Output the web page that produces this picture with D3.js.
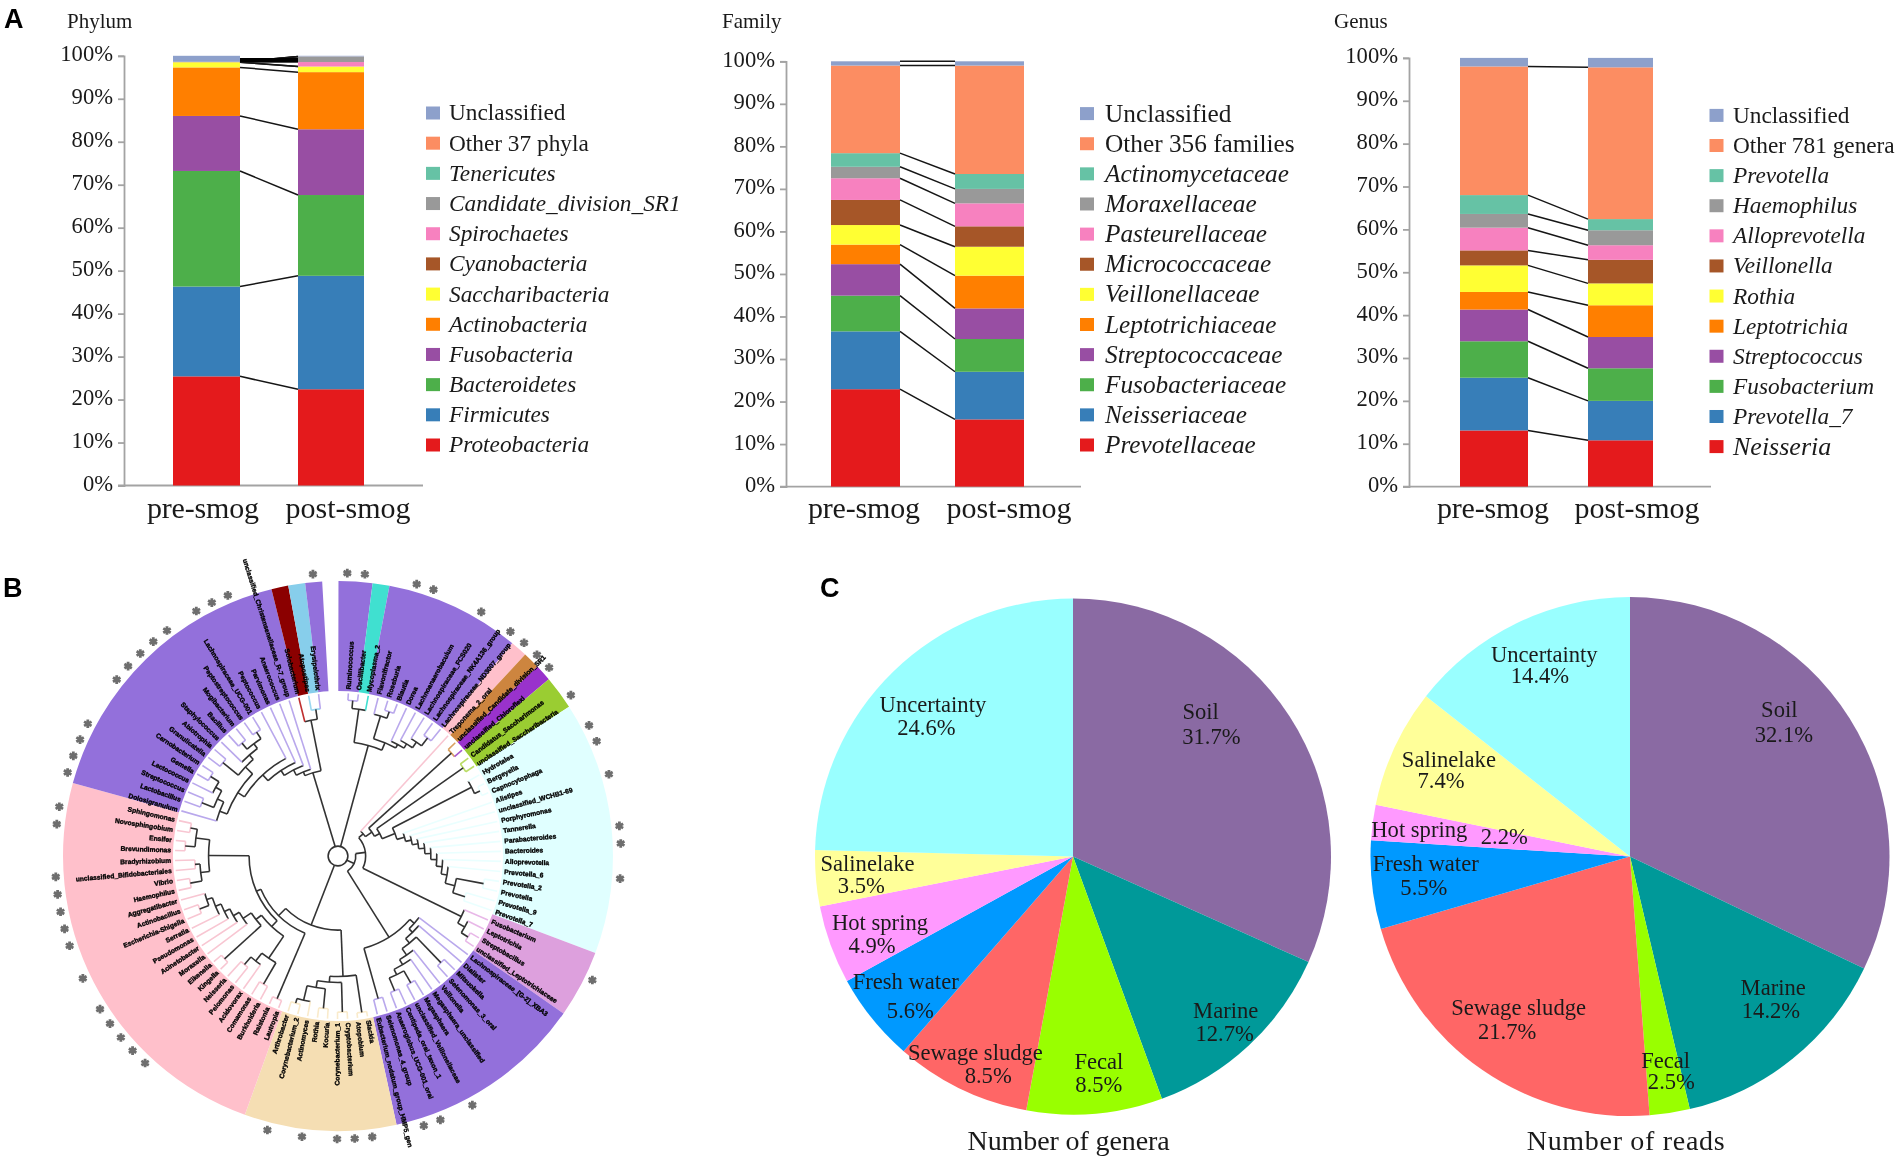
<!DOCTYPE html>
<html><head><meta charset="utf-8">
<script src="https://cdn.jsdelivr.net/npm/d3@7"></script>
<style>
html,body{margin:0;padding:0;background:#fff}
svg{display:block;filter:blur(.45px)}
text{font-family:"Liberation Serif","Times New Roman",serif;fill:#1a1a1a}
</style></head><body><svg id="c" width="1900" height="1162" viewBox="0 0 1900 1162"></svg>
<script>
// ---------- Panel A data ----------
const groups = ["pre-smog","post-smog"];
const tickValues = [0,10,20,30,40,50,60,70,80,90,100];
const stackColors = ["#E41A1C","#377EB8","#4DAF4A","#984EA3","#FF7F00","#FFFF33","#A65628","#F781BF","#999999","#66C2A5","#FC8D62","#8DA0CB"];

const phylumNames = ["Proteobacteria","Firmicutes","Bacteroidetes","Fusobacteria","Actinobacteria","Saccharibacteria","Cyanobacteria","Spirochaetes","Candidate_division_SR1","Tenericutes","Other 37 phyla","Unclassified"];
const phylumPre  = [25.4,20.9,26.9,12.8,11.3,1.2,0.02,0.02,0.02,0.02,0.02,1.4];
const phylumPost = [22.4,26.4,18.8,15.3,13.3,1.3,0.02,1.03,1.25,0.02,0.03,0.15];

const familyNames = ["Prevotellaceae","Neisseriaceae","Fusobacteriaceae","Streptococcaceae","Leptotrichiaceae","Veillonellaceae","Micrococcaceae","Pasteurellaceae","Moraxellaceae","Actinomycetaceae","Other 356 families","Unclassified"];
const familyPre  = [22.9,13.6,8.4,7.4,4.6,4.6,5.9,5.1,2.7,3.2,20.6,1.0];
const familyPost = [15.8,11.2,7.7,7.2,7.7,6.8,4.8,5.4,3.4,3.5,25.5,1.0];

const genusNames = ["Neisseria","Prevotella_7","Fusobacterium","Streptococcus","Leptotrichia","Rothia","Veillonella","Alloprevotella","Haemophilus","Prevotella","Other 781 genera","Unclassified"];
const genusPre  = [13.1,12.3,8.5,7.4,4.1,6.2,3.5,5.3,3.2,4.4,30.0,2.0];
const genusPost = [10.8,9.2,7.6,7.3,7.4,5.1,5.5,3.4,3.5,2.6,35.4,2.2];

// bundled black lines near the top of the Phylum panel (percent on both sides)
const phylumBundle = [99,99];

// ---------- Panel C data ----------
const pieNames = ["Soil","Marine","Fecal","Sewage sludge","Fresh water","Hot spring","Salinelake","Uncertainty"];
const pieColors = ["#8A6AA3","#009999","#99FF00","#FF6666","#0099FF","#FF99FF","#FFFF99","#99FFFF"];
const generaValues = [31.7,12.7,8.5,8.5,5.6,4.9,3.5,24.6];
const readsValues  = [32.1,14.2,2.5,21.7,5.5,2.2,7.4,14.4];

// ---------- Panel B data ----------
const leafNames = [
"Ruminococcus","Oscillibacter","Mycoplasma_2","Flavonifractor","Roseburia","Blautia","Dorea","Lachnoanaerobaculum","Lachnospiraceae_FCS020","Lachnospiraceae_NK4A136_group","Lachnospiraceae_ND3007_group",
"Treponema_2_oral","unclassified_Candidate_division_SR1","unclassified_Chloroflexi","Candidatus_Saccharimonas","unclassified_Saccharibacteria",
"Hydrotalea","Bergeyella","Capnocytophaga","Alistipes","unclassified_WCHB1-69","Porphyromonas","Tannerella","Parabacteroides","Bacteroides","Alloprevotella","Prevotella_6","Prevotella_2","Prevotella","Prevotella_9","Prevotella_7",
"Fusobacterium","Leptotrichia","Streptobacillus","unclassified_Leptotrichiaceae",
"Lachnospiraceae_[G-2]_XBA3","Dialister","Mitsuokella","Selenomonas_3_oral","Veillonella","Megasphaera_unclassified","Megasphaera","unclassified_Veillonellaceae","Centipeda_oral_taxon_1","Anaeroglobus_UCG-001_oral","Selenomonas_4_group","Eubacterium_nodatum_group_HMP5_gen",
"Slackia","Atopobium","Cryptobacterium","Corynebacterium_1","Kocuria","Rothia","Actinomyces","Corynebacterium_2","Arthrobacter",
"Lautropia","Ralstonia","Burkholderia","Comamonas","Acidovorax","Pelomonas","Neisseria","Kingella","Eikenella","Moraxella","Acinetobacter","Pseudomonas","Serratia","Escherichia-Shigella","Actinobacillus","Aggregatibacter","Haemophilus","Vibrio","unclassified_Bifidobacteriales","Bradyrhizobium","Brevundimonas","Ensifer","Novosphingobium","Sphingomonas",
"Dolosigranulum","Lactobacillus","Streptococcus","Lactococcus","Gemella","Carnobacterium","Granulicatella","Abiotrophia","Staphylococcus","Bacillus","Mogibacterium","Peptostreptococcus","Lachnospiraceae_UCG-001","Peptococcus","Parvimonas","Anaerococcus","unclassified_Christensenellaceae_R-7_group",
"Solobacterium","Atopostipes","Erysipelothrix"];
const cladeSizes  = [2,1,8,1,1,1,2,15,4,12,9,24,17,1,1,1];
const cladeColors = ["#9370DB","#40E0D0","#9370DB","#FFC0CB","#CD853F","#9932CC","#9ACD32","#E0FFFF","#DDA0DD","#9370DB","#F5DEB3","#FFC0CB","#9370DB","#8B0000","#87CEEB","#9370DB"];
const cladeBranch = ["#B9A8EC","#40E0D0","#B9A8EC","#F8C6D2","#D9A060","#A85AD0","#BBDD66","#EAFFFF","#E8B8E8","#B9A8EC","#FAEBCB","#F8C6D2","#B9A8EC","#C03030","#9AD8F0","#B9A8EC"];
const starredLeaves = [99,0,1,4,5,8,10,11,12,13,15,17,18,20,23,24,26,32,42,44,45,48,49,50,52,54,62,63,64,65,66,68,70,71,72,73,74,77,78,80,81,82,83,86,87,88,89,90,92,93,94];
// nested branches: [depth of the branch point, ...children]; a number is an index in leafNames
const treeBranches = [10,
  [116,[150,[158,0,1],2],[124,[148,3,[155,4,5]],[128,6,[133,7,[140,8,[150,9,10]]]]]],
  [18,
    [28,
      [34,11,[42,[155,12,13],[48,[155,14,15],
        [62,[152,16,[158,17,18]],[70,19,[76,20,[82,21,[88,22,[94,23,[100,24,[106,25,[112,26,[122,[150,27,28],[135,29,30]]]]]]]]]]
      ]]]],
      [139,31,[147,32,[155,33,34]]]
    ],
    [97,[103,35,[108,36,[114,[150,37,38],[122,39,[128,40,[134,[148,41,42],[148,43,44]]]]]]],[150,45,46]]
  ],
  [75,
    [122,[160,47,48],[128,[158,49,50],[135,[155,51,52],[150,53,[155,54,55]]]]],
    [85,[157,56,57],[90,
      [98,[125,[150,58,59],[135,60,[145,61,62]]],[105,[155,63,64],[115,65,[122,66,[128,67,[134,68,[140,[150,69,70],71]]]]]]],
      [131,[140,[152,72,73],[145,74,75]],[145,[155,76,77],[152,78,79]]]
    ]]
  ],
  [88,
    [92,[98,[104,[112,[120,
      [128,80,[135,[148,81,82],[142,83,[152,84,85]]]],
      [130,[150,86,87],[136,88,[142,[150,89,90],[150,91,92]]]]
    ],93],94],95],96],
    [140,97,[150,98,99]]
  ]
];

// ---------- Layout ----------
const panels = [
 {title:"Phylum",titleX:67,names:phylumNames,pre:phylumPre,post:phylumPost,ax:124,y0:485.5,y100:55.8,barX:[173,298],barW:[67,66],baseEnd:423,swX:426,txtX:449,legT:113,legB:445,legFont:23.3,labX:[203,348],topLine:false},
 {title:"Family",titleX:722,names:familyNames,pre:familyPre,post:familyPost,ax:786,y0:486.6,y100:61.3,barX:[831,955],barW:[69,69],baseEnd:1081,swX:1080,txtX:1105,legT:113.6,legB:445,legFont:25.3,labX:[864,1009],topLine:true},
 {title:"Genus",titleX:1334,names:genusNames,pre:genusPre,post:genusPost,ax:1409,y0:486.6,y100:57.9,barX:[1460,1588],barW:[68,65],baseEnd:1711,swX:1709.5,txtX:1733,legT:115.4,legB:446.6,legFont:23.3,labX:[1493,1637],topLine:false}
];
const plainLegend = /^(Unclassified|Other)/;
const svg = d3.select("#c");

panels.forEach(p=>{
  const g = svg.append("g");
  const y = d3.scaleLinear([0,100],[p.y0,p.y100]);
  const x = d3.scaleOrdinal(groups,p.barX);
  const w = d3.scaleOrdinal(groups,p.barW);
  g.append("text").attr("x",p.titleX).attr("y",28).attr("font-size",21).text(p.title);

  const axis = g.append("g").attr("transform",`translate(${p.ax},0)`)
    .call(d3.axisLeft(y).tickValues(tickValues).tickSizeOuter(0).tickSize(6).tickPadding(5).tickFormat(d=>d+"%"));
  axis.selectAll("path,line").attr("stroke","#a3a3a3").attr("stroke-width",1.8);
  axis.selectAll("text").attr("font-size",22.6).attr("font-family","Liberation Serif").attr("fill","#1a1a1a").attr("dy",".22em");
  g.append("line").attr("x1",p.ax-6).attr("x2",p.baseEnd).attr("y1",y(0)).attr("y2",y(0)).attr("stroke","#a3a3a3").attr("stroke-width",1.8);

  const rows = p.names.map((n,i)=>({name:n,"pre-smog":p.pre[i],"post-smog":p.post[i]}));
  const cum = groups.map(k=>{let s=0;return rows.map(r=>{const a=s;s+=r[k];return [a,s];});});
  groups.forEach((k,gi)=>{
    g.append("g").selectAll("rect").data(cum[gi]).join("rect")
      .attr("x",x(k)).attr("width",w(k))
      .attr("y",d=>y(d[1])).attr("height",d=>y(d[0])-y(d[1]))
      .attr("fill",(d,i)=>stackColors[i]);
  });
  const x1 = x(groups[0])+w(groups[0]), x2 = x(groups[1]);
  const links = rows.map((r,i)=>[cum[0][i][1],cum[1][i][1]]).filter((d,i)=>p.topLine||i<rows.length-1);
  g.append("g").selectAll("line").data(links).join("line")
    .attr("x1",x1).attr("x2",x2).attr("y1",d=>y(d[0])).attr("y2",d=>y(d[1]))
    .attr("stroke","#151515").attr("stroke-width",1.5);
  if(p.title==="Phylum"){
    g.append("line").attr("x1",x1).attr("x2",x2).attr("y1",y(phylumBundle[0])).attr("y2",y(phylumBundle[1]))
     .attr("stroke","#000").attr("stroke-width",4);
  }
  // x labels
  g.selectAll("text.xl").data(groups).join("text").attr("class","xl")
    .attr("x",(d,i)=>p.labX[i]).attr("y",518).attr("text-anchor","middle").attr("font-size",30)
    .attr("textLength",(d,i)=>i?125:112).attr("lengthAdjust","spacing").text(d=>d);
  // legend
  const ly = d3.scalePoint(p.names,[p.legB,p.legT]);
  const it = g.append("g").selectAll("g").data(p.names).join("g").attr("transform",d=>`translate(0,${ly(d)})`);
  it.append("rect").attr("x",p.swX).attr("y",-6.5).attr("width",14).attr("height",13).attr("fill",(d,i)=>stackColors[i]);
  it.append("text").attr("x",p.txtX).attr("dy",".32em")
    .attr("font-size",d=>d==="Neisseria"?26:p.legFont)
    .attr("font-style",d=>plainLegend.test(d)?"normal":"italic").text(d=>d);
});

// panel letters
[["A",4,28],["B",3,597],["C",820,597]].forEach(d=>{
  svg.append("text").attr("x",d[1]).attr("y",d[2]).attr("font-size",27).attr("font-weight",700)
    .style("font-family","Liberation Sans").style("fill","#000").text(d[0]);
});

// ---------- Panel C ----------
const genLabelPos = [[[1200.7,712.5],[1211.4,737.5]],[[1225.7,1010.8],[1224.6,1034.5]],[[1098.9,1062.5],[1098.9,1085.1]],[[975.4,1052.9],[988.2,1076.6]],[[905.7,982.1],[910.4,1010.8]],[[880,923.6],[872.1,946.5]],[[867.5,864.2],[861.4,886]],[[932.9,705.4],[926.4,728.4]]];
const readLabelPos = [[[1779.3,710],[1783.9,734.9]],[[1773.2,987.9],[1771,1010.8]],[[1665.7,1061.3],[1671.4,1082.4]],[[1518.6,1007.8],[1507.1,1032.6]],[[1425.7,864.5],[1423.9,888.5]],[[1419.3,829.8],[1504.3,837.1]],[[1448.9,759.8],[1441,781.2]],[[1544.3,654.9],[1540,676.7]]];
[
 {vals:generaValues,cx:1073,cy:856.6,r:258,pos:genLabelPos,title:"Number of genera",tx:1068.6,tw:202},
 {vals:readsValues,cx:1630,cy:856.6,r:259.5,pos:readLabelPos,title:"Number of reads",tx:1625.7,tw:198}
].forEach(P=>{
  const arcs = d3.pie().sort(null)(P.vals);
  const arc = d3.arc().innerRadius(0).outerRadius(P.r);
  svg.append("g").attr("transform",`translate(${P.cx},${P.cy})`)
    .selectAll("path").data(arcs).join("path").attr("d",arc).attr("fill",(d,i)=>pieColors[i]);
  const lab = svg.append("g");
  pieNames.forEach((n,i)=>{
    lab.append("text").attr("x",P.pos[i][0][0]).attr("y",P.pos[i][0][1]).attr("dy",".3em").attr("text-anchor","middle").attr("font-size",22.6).text(n);
    lab.append("text").attr("x",P.pos[i][1][0]).attr("y",P.pos[i][1][1]).attr("dy",".3em").attr("text-anchor","middle").attr("font-size",22.6).text(P.vals[i].toFixed(1)+"%");
  });
  svg.append("text").attr("x",P.tx).attr("y",1150).attr("text-anchor","middle").attr("font-size",28)
    .attr("textLength",P.tw).attr("lengthAdjust","spacing").text(P.title);
});

// ---------- Panel B ----------
const cx=338, cy=856;
const T = svg.append("g").attr("transform",`translate(${cx},${cy})`);
const startA=0.1, endA=356.7, step=(endA-startA)/leafNames.length;
const rad = d=>d*Math.PI/180;
const rScale = d3.scaleLinear([0,165],[0,163]);
const bandInner=165, bandOuter=275, starR=283, labelR=167;
const leafClade = [];
cladeSizes.forEach((n,i)=>{for(let k=0;k<n;k++)leafClade.push(i);});
// bands
let acc=0;
const bands = cladeSizes.map((n,i)=>{const s=acc;acc+=n;return {startAngle:rad(startA+s*step),endAngle:rad(startA+acc*step),c:cladeColors[i]};});
T.append("g").selectAll("path").data(bands).join("path")
  .attr("d",d3.arc().innerRadius(bandInner).outerRadius(bandOuter)).attr("fill",d=>d.c);

const root = d3.hierarchy(treeBranches,d=>Array.isArray(d)?d.slice(1):null);
d3.cluster().size([endA-startA-step,1]).separation(()=>1)(root);
root.each(n=>{
  n.ang = rad(startA+step/2+n.x);
  n.rr = n.children ? rScale(n.data[0]) : rScale(165);
  n.leaf = !n.children;
});
const branchG = T.append("g").attr("fill","none");
root.descendants().filter(n=>n.children).forEach(n=>{
  const allLeaves = n.children.every(c=>c.leaf);
  const col = allLeaves ? cladeBranch[leafClade[n.children[0].data]] : "#333";
  if(n!==root){
    const a0=d3.min(n.children,c=>c.ang), a1=d3.max(n.children,c=>c.ang);
    const pth=d3.path(); pth.arc(0,0,n.rr,a0-Math.PI/2,a1-Math.PI/2);
    branchG.append("path").attr("d",pth.toString()).attr("stroke",col).attr("stroke-width",1.6);
  }
});
branchG.append("circle").attr("r",rScale(10)).attr("stroke","#333").attr("stroke-width",1.6);
root.links().forEach(l=>{
  const a=d3.pointRadial(l.target.ang,l.source.rr), b=d3.pointRadial(l.target.ang,l.target.rr);
  const col = l.target.leaf ? cladeBranch[leafClade[l.target.data]] : "#333";
  branchG.append("line").attr("x1",a[0]).attr("y1",a[1]).attr("x2",b[0]).attr("y2",b[1])
    .attr("stroke",col).attr("stroke-width",1.6);
});
// leaf labels
const leaves = root.leaves();
T.append("g").selectAll("text").data(leaves).join("text")
  .attr("transform",d=>{
    const deg=d.ang*180/Math.PI;
    return deg<180?`rotate(${deg-90}) translate(${labelR},0)`:`rotate(${deg+90}) translate(${-labelR},0)`;
  })
  .attr("text-anchor",d=>d.ang<Math.PI?"start":"end").attr("dy",".32em")
  .style("font-family","Liberation Sans").style("fill","#000").style("stroke","#000").style("stroke-width",.35)
  .attr("font-weight",700).attr("font-size",6.7)
  .text(d=>leafNames[d.data]);
// stars
const sym = d3.symbol(d3.symbolAsterisk,52)();
T.append("g").selectAll("path").data(starredLeaves).join("path")
  .attr("d",sym)
  .attr("transform",i=>{const p=d3.pointRadial(rad(startA+step*(i+.5)),starR);return `translate(${p[0]},${p[1]})`;})
  .attr("fill","none").attr("stroke","#6e6e6e").attr("stroke-width",2.8);
</script></body></html>
